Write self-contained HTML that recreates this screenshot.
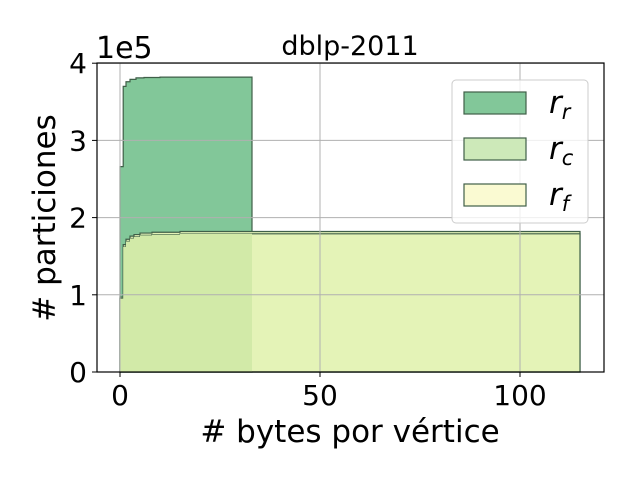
<!DOCTYPE html>
<html><head><meta charset="utf-8"><style>
body{margin:0;background:#fff;}
svg{display:block;font-family:"DejaVu Sans","Liberation Sans",sans-serif;}
</style></head><body>
<svg id="chart" width="640" height="480" viewBox="0 0 640 480">
<rect x="0" y="0" width="640" height="480" fill="#fff"/>
<g id="plot"></g>
<g id="grid"></g>
<rect x="97" y="63" width="507" height="309" fill="none" stroke="#000" stroke-width="1.2"/>
<g id="ticks"></g>
<text x="350" y="55" font-size="27" text-anchor="middle">dblp-2011</text>
<text x="96" y="58" font-size="30">1e5</text>
<text x="350" y="442" font-size="31" text-anchor="middle"># bytes por vértice</text>
<text transform="translate(55,218) rotate(-90)" font-size="31" text-anchor="middle"># particiones</text>
<g>
<rect x="452" y="80" width="136" height="143" rx="4" fill="#fff" fill-opacity="0.8" stroke="#ccc"/>
<g><rect x="464" y="92" width="62" height="22" fill="#82c799" stroke="#3f5f48" stroke-width="1.2"/><text x="549" y="113" font-size="31" font-style="italic">r<tspan font-size="21" dy="6">r</tspan></text></g>
<g><rect x="464" y="138" width="62" height="22" fill="#cde9b9" stroke="#3f5f48" stroke-width="1.2"/><text x="549" y="159" font-size="31" font-style="italic">r<tspan font-size="21" dy="6">c</tspan></text></g>
<g><rect x="464" y="184" width="62" height="22" fill="#fafad2" stroke="#3f5f48" stroke-width="1.2"/><text x="549" y="205" font-size="31" font-style="italic">r<tspan font-size="21" dy="6">f</tspan></text></g>
</g>
</svg>
<script>
const rrX=[0,0.8,1.5,2.5,4,6,10,33];
const rrY=[2.66,3.70,3.76,3.79,3.81,3.815,3.82,3.82];
const rcX=[0,0.8,1.5,2.5,3.5,5,8,15,115];
const rcY=[0.95,1.62,1.69,1.73,1.75,1.77,1.78,1.79,1.79];
const rfX=[0,0.8,1.5,2.5,3.5,5,8,15,115];
const rfY=[0.97,1.65,1.72,1.76,1.78,1.80,1.81,1.82,1.82];
const xTicks=[0,50,100];
const yTicks=[0,1,2,3,4];
const xs=v=>120+v*4, ys=v=>372-v*77.2;
const NS="http://www.w3.org/2000/svg";
function stepPath(X,Y,xEnd){let d=`M${xs(X[0])},${ys(0)}`;for(let i=0;i<X.length;i++){d+=` L${xs(X[i])},${ys(Y[i])}`;const nx=i+1<X.length?X[i+1]:xEnd;d+=` L${xs(nx)},${ys(Y[i])}`;}d+=` L${xs(xEnd)},${ys(0)} Z`;return d;}
const plot=document.getElementById('plot');
function add(X,Y,fill,name,clipEnd){const p=document.createElementNS(NS,'path');p.setAttribute('d',stepPath(X,Y,clipEnd));p.setAttribute('fill',fill);p.setAttribute('stroke','#3f5f48');p.setAttribute('stroke-width','1.2');


plot.appendChild(p);}
add(rrX,rrY,'#82c799','series-rr',rrX[rrX.length-1]);
add(rfX,rfY,'#e4f3b7','series-rf',rfX[rfX.length-1]);
add(rcX,rcY,'#e4f3b7','series-rc',rcX[rcX.length-1]);
const cp=document.createElementNS(NS,'path');
const cx=rcX.filter(v=>v<rrX[rrX.length-1]);
cp.setAttribute('d',stepPath(cx,rcY.slice(0,cx.length),rrX[rrX.length-1]));
cp.setAttribute('fill','#d2eaa8');


plot.appendChild(cp);
const grid=document.getElementById('grid'),ticks=document.getElementById('ticks');
xTicks.forEach(t=>{const l=document.createElementNS(NS,'line');l.setAttribute('x1',xs(t));l.setAttribute('x2',xs(t));l.setAttribute('y1',63);l.setAttribute('y2',372);l.setAttribute('stroke','#b0b0b0');


grid.appendChild(l);
const k=document.createElementNS(NS,'line');k.setAttribute('x1',xs(t));k.setAttribute('x2',xs(t));k.setAttribute('y1',372);k.setAttribute('y2',377);k.setAttribute('stroke','#000');ticks.appendChild(k);
const tx=document.createElementNS(NS,'text');tx.setAttribute('x',xs(t));tx.setAttribute('y',405);tx.setAttribute('font-size','28');tx.setAttribute('text-anchor','middle');tx.textContent=t;


ticks.appendChild(tx);});
yTicks.forEach(t=>{const l=document.createElementNS(NS,'line');l.setAttribute('x1',97);l.setAttribute('x2',604);l.setAttribute('y1',ys(t));l.setAttribute('y2',ys(t));l.setAttribute('stroke','#b0b0b0');


grid.appendChild(l);
const k=document.createElementNS(NS,'line');k.setAttribute('x1',92);k.setAttribute('x2',97);k.setAttribute('y1',ys(t));k.setAttribute('y2',ys(t));k.setAttribute('stroke','#000');ticks.appendChild(k);
const tx=document.createElementNS(NS,'text');tx.setAttribute('x',87);tx.setAttribute('y',ys(t)+10);tx.setAttribute('font-size','28');tx.setAttribute('text-anchor','end');tx.textContent=t;


ticks.appendChild(tx);});
</script>
</body></html>
